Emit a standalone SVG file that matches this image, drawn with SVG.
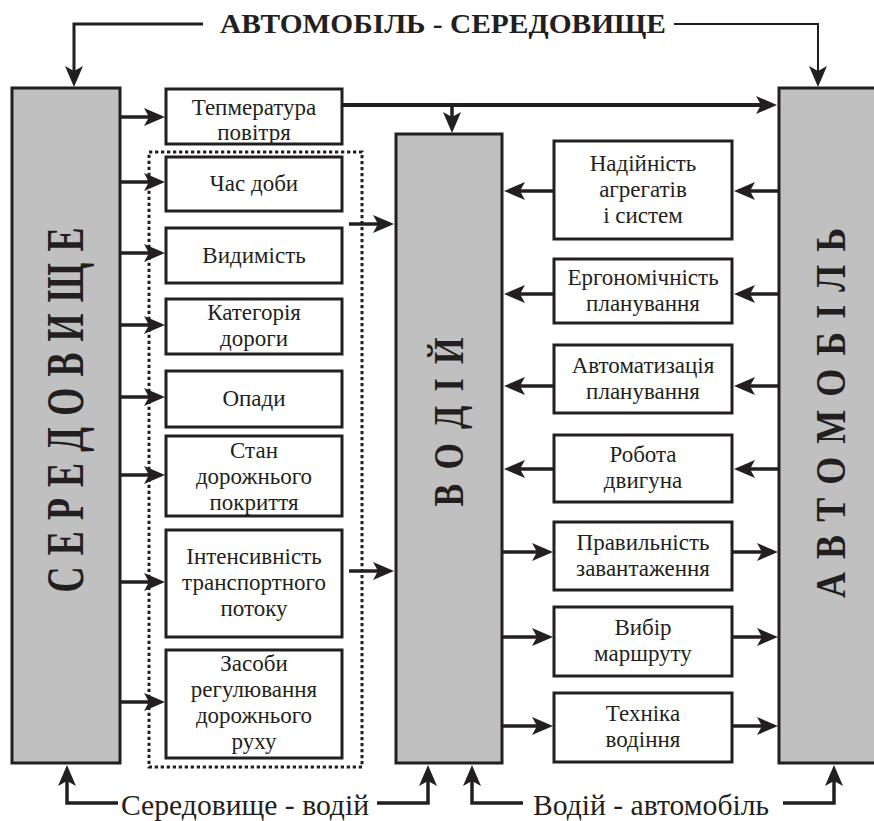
<svg xmlns="http://www.w3.org/2000/svg" width="874" height="821" viewBox="0 0 874 821" font-family="Liberation Serif, Times New Roman, serif">
<style>
.big{fill:#c0c0c0;stroke:#231f20;stroke-width:3}
.box{fill:#fff;stroke:#231f20;stroke-width:3}
.dot{fill:none;stroke:#231f20;stroke-width:3;stroke-dasharray:3.3 2.7}
.t{font-size:23px;text-anchor:middle;fill:#231f20}
.lbl{font-size:30px;text-anchor:middle;fill:#231f20}
.title{font-size:28px;font-weight:bold;fill:#231f20}
.vt{font-weight:bold;text-anchor:middle;fill:#231f20}
.ca{fill:none;stroke:#231f20;stroke-width:3.5;marker-end:url(#ah)}
</style>
<defs>
<marker id="ah" markerUnits="userSpaceOnUse" markerWidth="22" markerHeight="18" refX="5" refY="9" orient="auto" overflow="visible">
<path d="M0,0 L21,9 L0,18 L5,9 Z" fill="#231f20"/>
</marker>
</defs>
<rect width="874" height="821" fill="#fff"/>

<g id="title">
<text class="title" font-family="Liberation Serif, serif" x="220" y="33" textLength="446" lengthAdjust="spacingAndGlyphs">АВТОМОБІЛЬ - СЕРЕДОВИЩЕ</text>
</g>

<g id="env">
<rect class="big" x="12" y="88" width="108" height="675"/>
<text class="vt" font-family="Liberation Serif, serif" font-size="36" transform="translate(83,410) rotate(-90) scale(1,1.45)" textLength="365" lengthAdjust="spacing">С Е Р Е Д О В И Щ Е</text>
</g>
<g id="driver">
<rect class="big" x="396" y="134" width="106" height="629"/>
<text class="vt" font-family="Liberation Serif, serif" font-size="34" transform="translate(463,422) rotate(-90) scale(1,1.25)" textLength="169" lengthAdjust="spacing">В О Д І Й</text>
</g>
<g id="car">
<rect class="big" x="779" y="88" width="100" height="675"/>
<text class="vt" font-family="Liberation Serif, serif" font-size="36" transform="translate(845,413) rotate(-90) scale(1,1.17)" textLength="370" lengthAdjust="spacing">А В Т О М О Б І Л Ь</text>
</g>

<g id="env-group">
<rect class="dot" x="149" y="152" width="213" height="615"/>
</g>

<g font-family="Liberation Serif, serif">
<g id="temp">
<rect class="box" x="166" y="89" width="176" height="55"/>
<text class="t" x="254" y="115">Тепмература</text>
<text class="t" x="254" y="140">повітря</text>
</g>
<g id="time">
<rect class="box" x="166" y="157" width="176" height="54"/>
<text class="t" x="254" y="191">Час доби</text>
</g>
<g id="visibility">
<rect class="box" x="166" y="228" width="176" height="55"/>
<text class="t" x="254" y="263">Видимість</text>
</g>
<g id="road-category">
<rect class="box" x="166" y="299" width="176" height="55"/>
<text class="t" x="254" y="320">Категорія</text>
<text class="t" x="254" y="346">дороги</text>
</g>
<g id="precip">
<rect class="box" x="166" y="371" width="176" height="56"/>
<text class="t" x="254" y="406">Опади</text>
</g>
<g id="surface">
<rect class="box" x="166" y="436" width="176" height="80"/>
<text class="t" x="254" y="458">Стан</text>
<text class="t" x="254" y="484">дорожнього</text>
<text class="t" x="254" y="510">покриття</text>
</g>
<g id="traffic">
<rect class="box" x="166" y="530" width="176" height="107"/>
<text class="t" x="254" y="564">Інтенсивність</text>
<text class="t" x="254" y="590">транспортного</text>
<text class="t" x="254" y="616">потоку</text>
</g>
<g id="regulation">
<rect class="box" x="166" y="650" width="176" height="108"/>
<text class="t" x="254" y="671">Засоби</text>
<text class="t" x="254" y="697">регулювання</text>
<text class="t" x="254" y="723">дорожнього</text>
<text class="t" x="254" y="749">руху</text>
</g>

<g id="reliability">
<rect class="box" x="554" y="141" width="178" height="98"/>
<text class="t" x="643" y="171">Надійність</text>
<text class="t" x="643" y="197">агрегатів</text>
<text class="t" x="643" y="223">і систем</text>
</g>
<g id="ergonomics">
<rect class="box" x="554" y="259" width="178" height="64"/>
<text class="t" x="643" y="285">Ергономічність</text>
<text class="t" x="643" y="311">планування</text>
</g>
<g id="automation">
<rect class="box" x="554" y="345" width="178" height="68"/>
<text class="t" x="643" y="373">Автоматизація</text>
<text class="t" x="643" y="399">планування</text>
</g>
<g id="engine">
<rect class="box" x="554" y="435" width="178" height="67"/>
<text class="t" x="643" y="462">Робота</text>
<text class="t" x="643" y="488">двигуна</text>
</g>
<g id="loading">
<rect class="box" x="554" y="522" width="178" height="68"/>
<text class="t" x="643" y="550">Правильність</text>
<text class="t" x="643" y="576">завантаження</text>
</g>
<g id="route">
<rect class="box" x="554" y="607" width="178" height="69"/>
<text class="t" x="643" y="635">Вибір</text>
<text class="t" x="643" y="661">маршруту</text>
</g>
<g id="technique">
<rect class="box" x="554" y="693" width="178" height="69"/>
<text class="t" x="643" y="721">Техніка</text>
<text class="t" x="643" y="747">водіння</text>
</g>

<g id="bottom-labels">
<text class="lbl" x="245" y="815" textLength="248" lengthAdjust="spacingAndGlyphs">Середовище - водій</text>
<text class="lbl" x="651" y="815" textLength="236" lengthAdjust="spacingAndGlyphs">Водій - автомобіль</text>
</g>
</g>

<g id="connectors">
<path class="ca" d="M203,24 H74 V71" style="stroke-width:3"/>
<path class="ca" d="M674,24 H818 V71" style="stroke-width:2"/>
<path class="ca" d="M121,117 H149"/>
<path class="ca" d="M121,182 H149"/>
<path class="ca" d="M121,253 H149"/>
<path class="ca" d="M121,325 H149"/>
<path class="ca" d="M121,397 H149"/>
<path class="ca" d="M121,475 H149"/>
<path class="ca" d="M121,582 H149"/>
<path class="ca" d="M121,702 H149"/>
<path class="ca" d="M349,224 H378"/>
<path class="ca" d="M349,571 H378"/>
<path class="ca" d="M343,105 H761" style="stroke-width:4"/>
<path class="ca" d="M452,105 V117"/>
<path class="ca" d="M778,191 H750"/>
<path class="ca" d="M553,191 H520"/>
<path class="ca" d="M778,294 H750"/>
<path class="ca" d="M553,294 H520"/>
<path class="ca" d="M778,386 H750"/>
<path class="ca" d="M553,386 H520"/>
<path class="ca" d="M778,469 H750"/>
<path class="ca" d="M553,469 H520"/>
<path class="ca" d="M503,552 H537"/>
<path class="ca" d="M733,552 H762"/>
<path class="ca" d="M503,637 H537"/>
<path class="ca" d="M733,637 H762"/>
<path class="ca" d="M503,726 H537"/>
<path class="ca" d="M733,726 H762"/>
<path class="ca" d="M118,803 H67 V781"/>
<path class="ca" d="M377,803 H428 V781"/>
<path class="ca" d="M523,803 H472 V781"/>
<path class="ca" d="M783,803 H834 V781"/>
</g>
</svg>
